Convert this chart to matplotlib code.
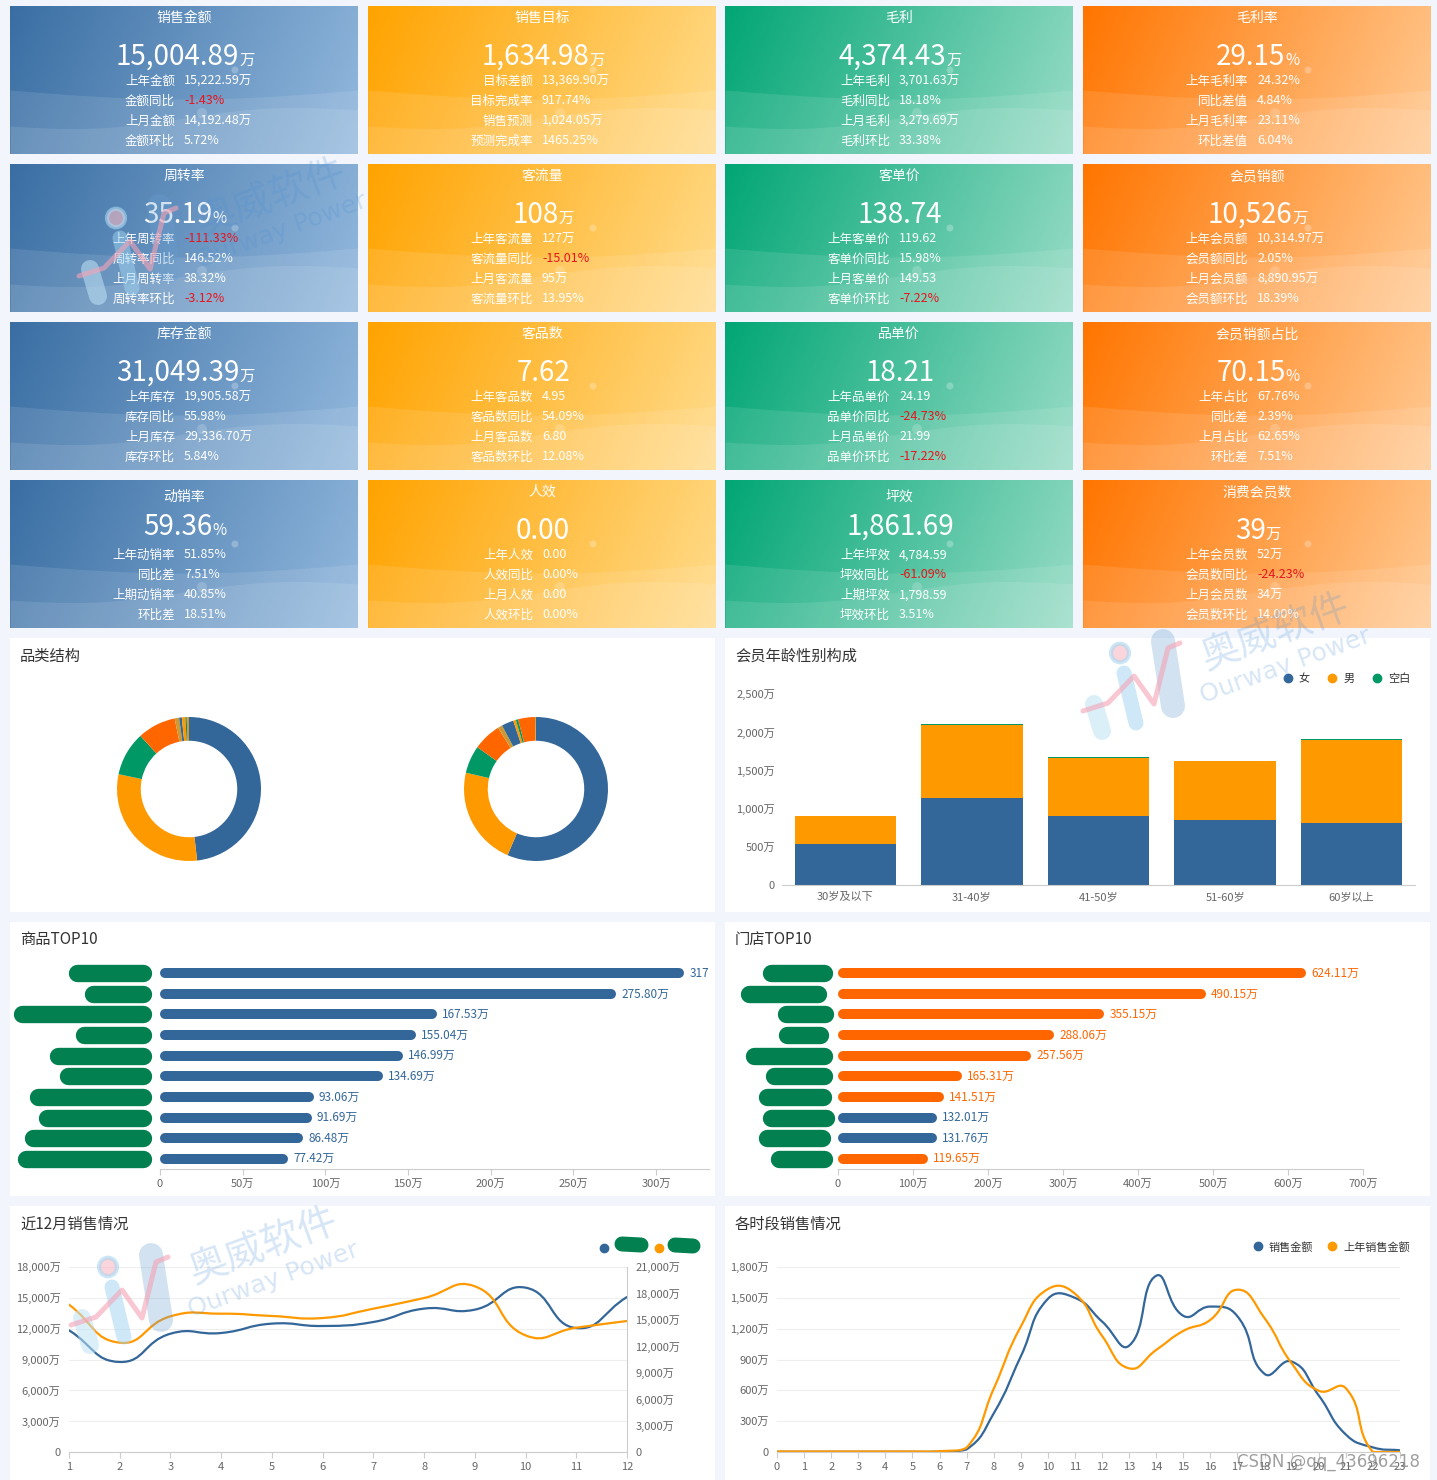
import numpy as np
import matplotlib
matplotlib.use("Agg")
import matplotlib.pyplot as plt
import matplotlib.transforms as mtransforms
from matplotlib.patches import Rectangle, Circle, PathPatch
from matplotlib.lines import Line2D
from matplotlib.path import Path
from matplotlib.offsetbox import TextArea, HPacker, AnnotationBbox
from matplotlib.colors import to_rgb

plt.rcParams['font.family'] = ['Noto Sans CJK SC', 'DejaVu Sans']

# ---------------- 数据 ----------------
TILE_TITLES = ["销售金额", "销售目标", "毛利", "毛利率",
               "周转率", "客流量", "客单价", "会员销额",
               "库存金额", "客品数", "品单价", "会员销额占比",
               "动销率", "人效", "坪效", "消费会员数"]
TILE_VALUES = ["15,004.89", "1,634.98", "4,374.43", "29.15",
               "35.19", "108", "138.74", "10,526",
               "31,049.39", "7.62", "18.21", "70.15",
               "59.36", "0.00", "1,861.69", "39"]
TILE_UNITS = ["万", "万", "万", "%",
              "%", "万", "", "万",
              "万", "", "", "%",
              "%", "", "", "万"]
TILE_LABELS = [
    ["上年金额", "金额同比", "上月金额", "金额环比"],
    ["目标差额", "目标完成率", "销售预测", "预测完成率"],
    ["上年毛利", "毛利同比", "上月毛利", "毛利环比"],
    ["上年毛利率", "同比差值", "上月毛利率", "环比差值"],
    ["上年周转率", "周转率同比", "上月周转率", "周转率环比"],
    ["上年客流量", "客流量同比", "上月客流量", "客流量环比"],
    ["上年客单价", "客单价同比", "上月客单价", "客单价环比"],
    ["上年会员额", "会员额同比", "上月会员额", "会员额环比"],
    ["上年库存", "库存同比", "上月库存", "库存环比"],
    ["上年客品数", "客品数同比", "上月客品数", "客品数环比"],
    ["上年品单价", "品单价同比", "上月品单价", "品单价环比"],
    ["上年占比", "同比差", "上月占比", "环比差"],
    ["上年动销率", "同比差", "上期动销率", "环比差"],
    ["上年人效", "人效同比", "上月人效", "人效环比"],
    ["上年坪效", "坪效同比", "上期坪效", "坪效环比"],
    ["上年会员数", "会员数同比", "上月会员数", "会员数环比"],
]
TILE_DETAILS = [
    ["15,222.59万", "-1.43%", "14,192.48万", "5.72%"],
    ["13,369.90万", "917.74%", "1,024.05万", "1465.25%"],
    ["3,701.63万", "18.18%", "3,279.69万", "33.38%"],
    ["24.32%", "4.84%", "23.11%", "6.04%"],
    ["-111.33%", "146.52%", "38.32%", "-3.12%"],
    ["127万", "-15.01%", "95万", "13.95%"],
    ["119.62", "15.98%", "149.53", "-7.22%"],
    ["10,314.97万", "2.05%", "8,890.95万", "18.39%"],
    ["19,905.58万", "55.98%", "29,336.70万", "5.84%"],
    ["4.95", "54.09%", "6.80", "12.08%"],
    ["24.19", "-24.73%", "21.99", "-17.22%"],
    ["67.76%", "2.39%", "62.65%", "7.51%"],
    ["51.85%", "7.51%", "40.85%", "18.51%"],
    ["0.00", "0.00%", "0.00", "0.00%"],
    ["4,784.59", "-61.09%", "1,798.59", "3.51%"],
    ["52万", "-24.23%", "34万", "14.00%"],
]

CAT_THIS = [48.2, 30.1, 9.9, 8.6, 1.0, 0.6, 0.8, 0.3, 0.2, 0.3]
CAT_LAST = [56.3, 22.1, 6.2, 6.3, 1.0, 2.7, 0.6, 0.5, 3.8, 0.2]

AGE_GROUPS = ["30岁及以下", "31-40岁", "41-50岁", "51-60岁", "60岁以上"]
AGE_FEMALE = [537, 1145, 905, 852, 817]
AGE_MALE = [363, 953, 756, 765, 1076]
AGE_BLANK = [0, 13, 9, 9, 17]

PRODUCT_TOP10 = [317.0, 275.80, 167.53, 155.04, 146.99, 134.69, 93.06, 91.69, 86.48, 77.42]
STORE_TOP10 = [624.11, 490.15, 355.15, 288.06, 257.56, 165.31, 141.51, 132.01, 131.76, 119.65]
STORE_OWN = [False, False, False, False, False, False, False, True, True, False]

MONTHS = list(range(1, 13))
MONTH_SALES = [11840, 8760, 11510, 11580, 12490, 12260, 12650, 13950, 13850, 15990, 12060, 15080]
MONTH_LAST = [16730, 12410, 15400, 15700, 15440, 15210, 16270, 17480, 18810, 13240, 14110, 14870]

HOURS = list(range(24))
HOUR_SALES = [2, 2, 2, 2, 2, 2, 3, 25, 375, 930, 1490, 1500, 1270, 1035, 1715, 1325,
              1415, 1320, 760, 880, 550, 170, 45, 16]
HOUR_LAST = [5, 5, 5, 5, 5, 5, 8, 42, 615, 1220, 1585, 1540, 1130, 814, 993, 1178,
             1286, 1579, 1302, 863, 596, 620, 0, 0]

BLUE, ORANGE, GREEN, RED_OR, TAN = "#336699", "#ff9900", "#009966", "#ff6600", "#cc9933"
PALETTE = [BLUE, ORANGE, GREEN, RED_OR, TAN]
MASK = "#02804f"
TICK_C = "#666666"
AXIS_C = "#cccccc"

# ---------------- 画布 ----------------
W, H = 1437, 1480
fig = plt.figure(figsize=(W / 100, H / 100), dpi=100, facecolor="#f2f6fc")


def fx(x):
    return x / W


def fy(y):
    return 1 - y / H


def px_axes(x, y, w, h):
    return fig.add_axes([x / W, 1 - (y + h) / H, w / W, h / H])


def fig_line(pts, lw_px, color, alpha=1.0, zorder=10):
    xs = [fx(p[0]) for p in pts]
    ys = [fy(p[1]) for p in pts]
    fig.add_artist(Line2D(xs, ys, lw=lw_px * 0.72, color=color, alpha=alpha,
                          solid_capstyle="round", solid_joinstyle="round",
                          transform=fig.transFigure, zorder=zorder))


def smooth_line(ax, xs, ys, color, lw=1.6, s=0.5):
    # echarts 风格的平滑曲线（贝塞尔）
    pts = ax.transData.transform(np.column_stack([xs, ys]).astype(float))
    y0 = ax.transData.transform((0, 0))[1]
    n = len(pts)
    cp_prev, cp_next = [], []
    for i in range(n):
        p = pts[i]
        pp = pts[i - 1] if i > 0 else p
        pn = pts[i + 1] if i < n - 1 else p
        v = pn - pp
        d0 = np.hypot(*(p - pp))
        d1 = np.hypot(*(pn - p))
        tot = d0 + d1
        if tot > 0:
            d0, d1 = d0 / tot, d1 / tot
        a = p - v * s * d0
        b = p + v * s * d1
        a[1] = max(a[1], y0)
        b[1] = max(b[1], y0)
        cp_prev.append(a)
        cp_next.append(b)
    verts = [pts[0]]
    codes = [Path.MOVETO]
    for i in range(n - 1):
        verts += [cp_next[i], cp_prev[i + 1], pts[i + 1]]
        codes += [Path.CURVE4] * 3
    verts = ax.transData.inverted().transform(np.array(verts))
    ax.add_patch(PathPatch(Path(verts, codes), fill=False, edgecolor=color, lw=lw,
                           capstyle="round", joinstyle="round"))


# ---------------- 指标卡片 ----------------
TILE_X = [10, 368, 725, 1083]
TILE_Y = [6, 164, 322, 480]
TW, TH = 348, 148
GRAD = [("#3a6ea3", "#93b9de"), ("#ffa300", "#ffdc8c"),
        ("#02a675", "#98dcc6"), ("#ff7500", "#ffca93")]
gx, gy = np.meshgrid(np.linspace(0, 1, 200), np.linspace(0, 1, 80))
tgrad = np.clip(0.85 * gx + 0.15 * gy, 0, 1)
wx = np.linspace(0, TW, 120)

for k in range(16):
    r, c = divmod(k, 4)
    ax = px_axes(TILE_X[c], TILE_Y[r], TW, TH)
    ax.set_xlim(0, TW)
    ax.set_ylim(TH, 0)
    ax.axis("off")
    c0 = np.array(to_rgb(GRAD[c][0]))
    c1 = np.array(to_rgb(GRAD[c][1]))
    img = c0 + (c1 - c0) * tgrad[..., None]
    ax.imshow(img, extent=[0, TW, TH, 0], aspect="auto", interpolation="bilinear", zorder=0)
    # 波浪装饰
    ax.fill_between(wx, 84 + 9 * np.sin(np.pi * wx / TW), TH, color="white", alpha=0.10, lw=0)
    ax.fill_between(wx, 120 - 16 * (wx / TW) + 6 * np.sin(2 * np.pi * wx / TW), TH,
                    color="white", alpha=0.10, lw=0)
    ax.add_patch(Circle((225, 64), 3.5, color="white", alpha=0.25, lw=0))
    ax.add_patch(Circle((192, 107), 5, color="white", alpha=0.18, lw=0))

    title_dy, num_dy = 11, 51
    if k in (12, 14):
        title_dy, num_dy = 16, 47
    ax.text(174, title_dy + 1, TILE_TITLES[k], ha="center", va="center", color="white", fontsize=10)
    parts = [TextArea(TILE_VALUES[k], textprops=dict(color="white", fontsize=20))]
    if TILE_UNITS[k]:
        parts.append(TextArea(TILE_UNITS[k], textprops=dict(color="white", fontsize=11)))
    pack = HPacker(children=parts, align="baseline", pad=0, sep=0)
    ax.add_artist(AnnotationBbox(pack, (175, num_dy), xycoords="data", frameon=False,
                                 box_alignment=(0.5, 0.5), pad=0))
    for i in range(4):
        yy = 75 + 20 * i
        val = TILE_DETAILS[k][i]
        ax.text(165, yy, TILE_LABELS[k][i], ha="right", va="center", color="white", fontsize=9)
        ax.text(174, yy, val, ha="left", va="center", fontsize=9,
                color="#e8141c" if val.startswith("-") else "white")

# ---------------- 面板背景 ----------------
PANELS = [(10, 638, "品类结构"), (725, 638, "会员年龄性别构成"),
          (10, 922, "商品TOP10"), (725, 922, "门店TOP10"),
          (10, 1206, "近12月销售情况"), (725, 1206, "各时段销售情况")]
for (px, py, title) in PANELS:
    fig.add_artist(Rectangle((fx(px), fy(py + 274)), 705 / W, 274 / H, transform=fig.transFigure,
                             facecolor="white", edgecolor="none", zorder=-1))
    fig.text(fx(px + 10), fy(py + 18), title, ha="left", va="center", fontsize=11, color="#333333")

# ---------------- 品类结构 ----------------
for cx, vals in [(189, CAT_THIS), (536, CAT_LAST)]:
    ax = px_axes(cx - 72, 717, 144, 144)
    cols = [PALETTE[i % 5] for i in range(len(vals))]
    ax.pie(vals, colors=cols, startangle=90, counterclock=False, radius=1,
           wedgeprops=dict(width=0.33, linewidth=0))
    ax.set_xlim(-1, 1)
    ax.set_ylim(-1, 1)
    ax.set_aspect("equal")

# ---------------- 会员年龄性别构成 ----------------
ax = px_axes(782, 694, 633, 191)
ax.set_facecolor("none")
xs = np.arange(len(AGE_GROUPS))
fem = np.array(AGE_FEMALE)
male = np.array(AGE_MALE)
ax.bar(xs, fem, 0.8, color=BLUE)
ax.bar(xs, male, 0.8, bottom=fem, color=ORANGE)
ax.bar(xs, AGE_BLANK, 0.8, bottom=fem + male, color=GREEN)
ax.set_xlim(-0.5, 4.5)
ax.set_ylim(0, 2500)
yt = np.arange(0, 2501, 500)
ax.set_yticks(yt)
ax.set_yticklabels(["0"] + [f"{v:,}万" for v in yt[1:]])
ax.set_xticks(xs)
ax.set_xticklabels(AGE_GROUPS)
ax.tick_params(axis="y", length=0, labelsize=8, colors=TICK_C, pad=5)
ax.tick_params(axis="x", length=0, labelsize=8, colors=TICK_C, pad=5)
for sp in ["left", "top", "right"]:
    ax.spines[sp].set_visible(False)
ax.spines["bottom"].set_color(AXIS_C)
hd = [Line2D([], [], marker="o", ls="", color=cc, markersize=6) for cc in (BLUE, ORANGE, GREEN)]
ax.legend(hd, ["女", "男", "空白"], loc="center right", bbox_to_anchor=(fx(1420), fy(679)),
          bbox_transform=fig.transFigure, ncol=3, frameon=False, fontsize=8,
          handletextpad=0.6, columnspacing=1.6, handlelength=0.8, labelcolor="#333333")


# ---------------- TOP10 ----------------
def top10(ax_x, ax_w, xmax, step, vals, colors, mask_l, mask_r):
    ax = px_axes(ax_x, 963, ax_w, 206)
    ax.set_facecolor("none")
    ax.set_xlim(0, xmax)
    ax.set_ylim(len(vals) - 0.5, -0.5)
    upx = xmax / ax_w
    r = 5 * upx
    for i, v in enumerate(vals):
        ax.plot([r, v - r], [i, i], lw=7.2, color=colors[i], solid_capstyle="round")
        ax.text(v + 5 * upx, i, f"{v:.2f}万", ha="left", va="center", fontsize=8.5,
                color=colors[i], clip_on=True)
    xt = np.arange(0, xmax + 1, step)
    xt = xt[xt <= xmax]
    ax.set_xticks(xt)
    ax.set_xticklabels(["0"] + [f"{v}万" for v in xt[1:]])
    ax.set_yticks([])
    ax.tick_params(axis="x", length=4, color=AXIS_C, labelsize=8, labelcolor=TICK_C, pad=3)
    for sp in ["left", "top", "right"]:
        ax.spines[sp].set_visible(False)
    ax.spines["bottom"].set_color(AXIS_C)
    # 名称遮挡涂抹
    tr = mtransforms.blended_transform_factory(fig.transFigure, ax.transData)
    for i in range(len(vals)):
        fig.add_artist(Line2D([fx(mask_l[i] + 8), fx(mask_r[i] - 8)], [i, i], lw=12.5,
                              color=MASK, solid_capstyle="round", transform=tr, zorder=10))
    return ax


top10(160, 549, 332, 50, PRODUCT_TOP10, [BLUE] * 10,
      [69, 85, 14, 76, 50, 60, 30, 39, 25, 18], [151] * 10)
top10(838, 525, 700, 100, STORE_TOP10, [BLUE if o else RED_OR for o in STORE_OWN],
      [763, 741, 778, 779, 746, 766, 759, 763, 759, 771],
      [832, 826, 833, 828, 832, 832, 831, 834, 830, 832])

# ---------------- 近12月销售情况 ----------------
ax = px_axes(69, 1267, 558, 185)
ax.set_facecolor("none")
ax.set_xlim(1, 12)
ax.set_ylim(0, 18000)
ax2 = ax.twinx()
ax2.set_ylim(0, 21000)
lt = np.arange(0, 18001, 3000)
ax.set_yticks(lt)
ax.set_yticklabels(["0"] + [f"{v:,}万" for v in lt[1:]])
rt = np.arange(0, 21001, 3000)
ax2.set_yticks(rt)
ax2.set_yticklabels(["0"] + [f"{v:,}万" for v in rt[1:]])
ax.set_xticks(MONTHS)
ax.yaxis.grid(True, color="#eeeeee", lw=0.8)
ax.set_axisbelow(True)
ax.tick_params(axis="y", length=0, labelsize=8, colors=TICK_C, pad=6)
ax2.tick_params(axis="y", length=0, labelsize=8, colors=TICK_C, pad=6)
ax.tick_params(axis="x", length=4, color=AXIS_C, labelsize=8, labelcolor=TICK_C, pad=3)
for a in (ax, ax2):
    for sp in ["left", "top"]:
        a.spines[sp].set_visible(False)
ax.spines["right"].set_visible(False)
ax2.spines["right"].set_color(AXIS_C)
ax.spines["bottom"].set_color(AXIS_C)
ax2.spines["bottom"].set_visible(False)
smooth_line(ax, MONTHS, MONTH_SALES, BLUE)
smooth_line(ax2, MONTHS, MONTH_LAST, ORANGE)
# 图例（名称被涂抹）
fig.add_artist(Line2D([fx(604)], [fy(1248)], marker="o", ls="", color=BLUE, markersize=6,
                      transform=fig.transFigure, zorder=10))
fig.add_artist(Line2D([fx(659)], [fy(1248)], marker="o", ls="", color=ORANGE, markersize=6,
                      transform=fig.transFigure, zorder=10))
fig_line([(622, 1244), (641, 1245)], 15, MASK)
fig_line([(675, 1245), (693, 1246)], 15, MASK)

# ---------------- 各时段销售情况 ----------------
ax = px_axes(777, 1267, 623, 185)
ax.set_facecolor("none")
ax.set_xlim(0, 23)
ax.set_ylim(0, 1800)
ht = np.arange(0, 1801, 300)
ax.set_yticks(ht)
ax.set_yticklabels(["0"] + [f"{v:,}万" for v in ht[1:]])
ax.set_xticks(HOURS)
ax.yaxis.grid(True, color="#eeeeee", lw=0.8)
ax.set_axisbelow(True)
ax.tick_params(axis="y", length=0, labelsize=8, colors=TICK_C, pad=6)
ax.tick_params(axis="x", length=4, color=AXIS_C, labelsize=8, labelcolor=TICK_C, pad=3)
for sp in ["left", "top", "right"]:
    ax.spines[sp].set_visible(False)
ax.spines["bottom"].set_color(AXIS_C)
smooth_line(ax, HOURS, HOUR_SALES, BLUE)
smooth_line(ax, HOURS, HOUR_LAST, ORANGE)
hd = [Line2D([], [], marker="o", ls="", color=cc, markersize=6) for cc in (BLUE, ORANGE)]
ax.legend(hd, ["销售金额", "上年销售金额"], loc="center right", bbox_to_anchor=(fx(1420), fy(1247)),
          bbox_transform=fig.transFigure, ncol=2, frameon=False, fontsize=8,
          handletextpad=0.6, columnspacing=1.3, handlelength=0.8, labelcolor="#333333")


# ---------------- 水印 ----------------
def watermark(ax0, ay0):
    fig.text(fx(ax0), fy(ay0), "奥威软件", rotation=20, fontsize=28, color="#4a8fd6",
             alpha=0.22, ha="center", va="center", zorder=10)
    fig.text(fx(ax0 + 10), fy(ay0 + 33), "Ourway Power", rotation=20, fontsize=18,
             color="#4a8fd6", alpha=0.22, ha="center", va="center", zorder=10,
             family="DejaVu Sans")
    fig_line([(ax0 - 182, ay0 + 71), (ax0 - 174, ay0 + 98)], 18, "#bfe3f5", 0.55)
    fig_line([(ax0 - 152, ay0 + 40), (ax0 - 140, ay0 + 90)], 15, "#9fd3f0", 0.5)
    fig_line([(ax0 - 113, ay0 + 8), (ax0 - 103, ay0 + 73)], 24, "#6a9fd0", 0.3)
    fig_line([(ax0 - 193, ay0 + 78), (ax0 - 168, ay0 + 70), (ax0 - 142, ay0 + 43),
              (ax0 - 122, ay0 + 71), (ax0 - 108, ay0 + 15), (ax0 - 96, ay0 + 10)], 5, "#f5a3b5", 0.6)
    fig.add_artist(Circle((fx(ax0 - 156), fy(ay0 + 20)), 9 / W, transform=fig.transFigure,
                          facecolor="#f7b9c4", edgecolor="#a9d8f2", lw=3, alpha=0.6, zorder=10))


watermark(272, 198)
watermark(1276, 633)
watermark(264, 1247)

fig.text(fx(1420), fy(1462), "CSDN @qq_43696218", ha="right", va="center", fontsize=12,
         color="#777777", alpha=0.7, zorder=10, family="DejaVu Sans")

fig.savefig("out.png", dpi=100, facecolor=fig.get_facecolor())
